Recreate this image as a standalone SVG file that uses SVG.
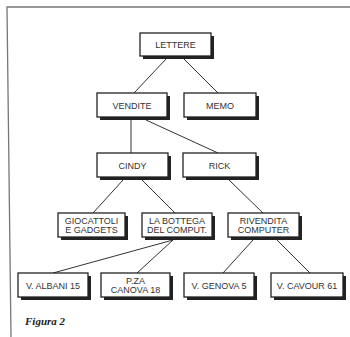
<svg xmlns="http://www.w3.org/2000/svg" width="350" height="337" viewBox="0 0 350 337">
<style>
.sh{fill:#222}
.bx{fill:#fff;stroke:#222;stroke-width:1.3}
.t{font-family:"Liberation Sans",Arial,sans-serif;font-size:9px;fill:#333;text-anchor:middle}
.c{stroke:#333;stroke-width:1;fill:none}
.fr{stroke:#777;stroke-width:1.3;fill:none}
</style>
<rect width="350" height="337" fill="#fff"/>
<path class="fr" d="M350,7 L7,7 L11,337"/>
<g id="connectors">
<line class="c" x1="166" y1="59" x2="134" y2="93"/>
<line class="c" x1="184" y1="59" x2="218" y2="93"/>
<line class="c" x1="131" y1="120" x2="131" y2="153"/>
<line class="c" x1="146" y1="120" x2="218" y2="153"/>
<line class="c" x1="123" y1="180" x2="93" y2="213"/>
<line class="c" x1="142" y1="180" x2="175" y2="213"/>
<line class="c" x1="229" y1="180" x2="263" y2="213"/>
<line class="c" x1="173" y1="240" x2="53" y2="273"/>
<line class="c" x1="173" y1="240" x2="137" y2="273"/>
<line class="c" x1="253" y1="240" x2="223" y2="273"/>
<line class="c" x1="277" y1="240" x2="310" y2="273"/>
</g>
<g id="lettere"><rect class="sh" x="143" y="36" width="71" height="23"/><rect class="bx" x="140" y="33" width="71" height="23"/><text class="t" x="175.5" y="48">LETTERE</text></g>
<g id="vendite"><rect class="sh" x="100" y="96" width="70" height="24"/><rect class="bx" x="97" y="93" width="70" height="24"/><text class="t" x="132" y="108.5">VENDITE</text></g>
<g id="memo"><rect class="sh" x="187" y="96" width="72" height="24"/><rect class="bx" x="184" y="93" width="72" height="24"/><text class="t" x="220" y="108.5">MEMO</text></g>
<g id="cindy"><rect class="sh" x="100" y="156" width="71" height="24"/><rect class="bx" x="97" y="153" width="71" height="24"/><text class="t" x="132.5" y="168.5">CINDY</text></g>
<g id="rick"><rect class="sh" x="186" y="156" width="73" height="24"/><rect class="bx" x="183" y="153" width="73" height="24"/><text class="t" x="219.5" y="168.5">RICK</text></g>
<g id="giocattoli"><rect class="sh" x="61" y="216" width="67" height="24"/><rect class="bx" x="58" y="213" width="67" height="24"/><text class="t" x="91.5" y="223.5">GIOCATTOLI</text><text class="t" x="91.5" y="233">E GADGETS</text></g>
<g id="bottega"><rect class="sh" x="145" y="216" width="70" height="24"/><rect class="bx" x="142" y="213" width="70" height="24"/><text class="t" x="177" y="223.5">LA BOTTEGA</text><text class="t" x="177" y="233">DEL COMPUT.</text></g>
<g id="rivendita"><rect class="sh" x="231" y="216" width="71" height="24"/><rect class="bx" x="228" y="213" width="71" height="24"/><text class="t" x="263.5" y="223.5">RIVENDITA</text><text class="t" x="263.5" y="233">COMPUTER</text></g>
<g id="albani"><rect class="sh" x="21" y="276" width="70" height="24"/><rect class="bx" x="18" y="273" width="70" height="24"/><text class="t" x="53" y="288.5">V. ALBANI 15</text></g>
<g id="canova"><rect class="sh" x="104" y="276" width="69" height="24"/><rect class="bx" x="101" y="273" width="69" height="24"/><text class="t" x="135.5" y="283.5">P.ZA</text><text class="t" x="135.5" y="293">CANOVA 18</text></g>
<g id="genova"><rect class="sh" x="187" y="276" width="70" height="24"/><rect class="bx" x="184" y="273" width="70" height="24"/><text class="t" x="219" y="288.5">V. GENOVA 5</text></g>
<g id="cavour"><rect class="sh" x="274" y="276" width="72" height="24"/><rect class="bx" x="271" y="273" width="72" height="24"/><text class="t" x="307" y="288.5">V. CAVOUR 61</text></g>
<text x="25" y="325" font-family="'Liberation Serif','Times New Roman',serif" font-size="11" font-weight="bold" font-style="italic" fill="#222">Figura 2</text>
</svg>
